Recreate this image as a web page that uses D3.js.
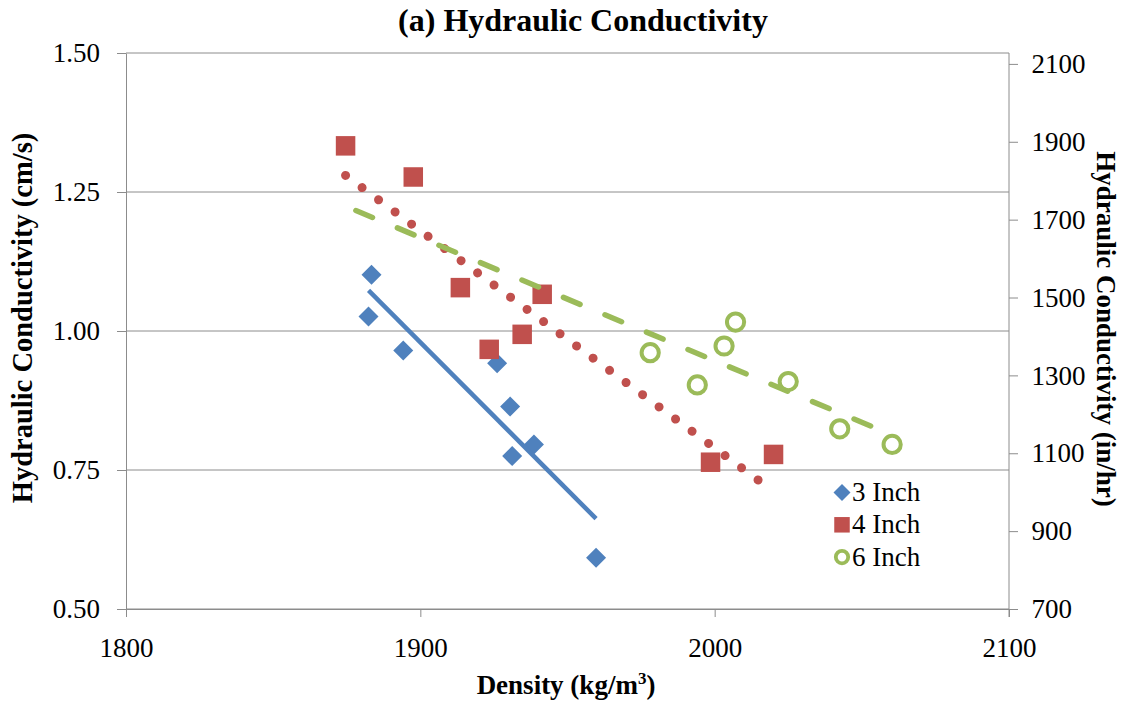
<!DOCTYPE html>
<html><head><meta charset="utf-8">
<script src="https://cdn.jsdelivr.net/npm/d3@7"></script>
<style>
html,body{margin:0;padding:0;background:#fff;}
text{font-family:"Liberation Serif","Times New Roman",serif;fill:#000;}
</style></head>
<body><svg id="c" width="1131" height="711"></svg>
<script>
// ---- data ----
const seriesNames = ["3 Inch", "4 Inch", "6 Inch"];
const density3 = [1883.4, 1882.4, 1894.2, 1926.1, 1930.5, 1931.2, 1938.6, 1959.7];
const k3 =       [1.101, 1.026, 0.965, 0.942, 0.864, 0.775, 0.796, 0.592];
const density4 = [1874.6, 1897.6, 1913.6, 1923.4, 1934.6, 1941.4, 1998.6, 2020.0];
const k4 =       [1.333, 1.277, 1.078, 0.967, 0.994, 1.066, 0.764, 0.778];
const density6 = [1978.1, 1994.1, 2003.2, 2007.1, 2025.0, 2042.5, 2060.3];
const k6 =       [0.961, 0.903, 0.973, 1.016, 0.909, 0.824, 0.796];
const backwardForecast = [0, 0, 100];
const xTicks = [1800, 1900, 2000, 2100];
const yTicks = [0.50, 0.75, 1.00, 1.25, 1.50];
const yRightTicks = [700, 900, 1100, 1300, 1500, 1700, 1900, 2100];

const svg = d3.select("#c");
const x = d3.scaleLinear().domain([1800, 2100]).range([126, 1009]);
const y = d3.scaleLinear().domain([0.5, 1.5]).range([609, 53]);
const yR = d3.scaleLinear().domain([700, 2128]).range([609, 53]);
const gridColor = "#8c8c8c";
const colors = ["#4f81bd", "#c0504d", "#9bbb59"];
const FS = 27;

// gridlines
svg.append("g").selectAll("line").data(yTicks).join("line")
  .attr("x1", x(1800)).attr("x2", x(2100))
  .attr("y1", d => y(d)).attr("y2", d => y(d))
  .attr("stroke", gridColor).attr("stroke-width", 1);

function styleAxis(g) {
  g.select(".domain").attr("stroke", gridColor);
  g.selectAll(".tick line").attr("stroke", gridColor);
  g.selectAll(".tick text").attr("font-size", FS).attr("fill", "#000");
}
const gx = svg.append("g").attr("transform", `translate(0,${y(0.5)})`)
  .call(d3.axisBottom(x).tickValues(xTicks).tickSize(8).tickSizeOuter(0).tickPadding(0).tickFormat(d3.format("d")));
gx.selectAll(".tick text").attr("dy", null).attr("y", 47.5);
styleAxis(gx);
const gy = svg.append("g").attr("transform", `translate(${x(1800)},0)`)
  .call(d3.axisLeft(y).tickValues(yTicks).tickSize(9).tickSizeOuter(0).tickPadding(17).tickFormat(d3.format(".2f")));
styleAxis(gy);
const gyr = svg.append("g").attr("transform", `translate(${x(2100)},0)`)
  .call(d3.axisRight(yR).tickValues(yRightTicks).tickSize(9).tickSizeOuter(0).tickPadding(13.5).tickFormat(d3.format("d")));
gyr.select(".domain").attr("d", `M0,${y(1.5)}V${y(0.5)+8}`);
styleAxis(gyr);

// markers
const data = [
  {xs: density3, ys: k3}, {xs: density4, ys: k4}, {xs: density6, ys: k6}
].map((s, i) => ({...s, name: seriesNames[i], color: colors[i], back: backwardForecast[i],
  pts: s.xs.map((v, j) => [v, s.ys[j]])}));

function drawMarker(g, type, cx, cy, color, big) {
  if (type === 0) {
    const h = big ? 10 : 8.5;
    g.append("path").attr("d", `M${cx},${cy-h}L${cx+h},${cy}L${cx},${cy+h}L${cx-h},${cy}Z`).attr("fill", color);
  } else if (type === 1) {
    const s = big ? 19.5 : 15.5;
    g.append("rect").attr("x", cx - s/2).attr("y", cy - s/2).attr("width", s).attr("height", s).attr("fill", color);
  } else {
    const r = big ? 8.6 : 6.2;
    g.append("circle").attr("cx", cx).attr("cy", cy).attr("r", r).attr("fill", "none")
      .attr("stroke", color).attr("stroke-width", big ? 4 : 3.8);
  }
}
const mg = svg.append("g");
data.forEach((s, i) => s.pts.forEach(p => drawMarker(mg, i, x(p[0]), y(p[1]), s.color, true)));

// linear trendlines (least squares)
function fit(pts) {
  const mx = d3.mean(pts, p => p[0]), my = d3.mean(pts, p => p[1]);
  const b = d3.sum(pts, p => (p[0]-mx)*(p[1]-my)) / d3.sum(pts, p => (p[0]-mx)**2);
  return v => my + b*(v - mx);
}
const lineStyles = [
  {w: 4.5, dash: null, cap: "butt"},
  {w: 9, dash: "0.01 20.5", cap: "round"},
  {w: 5.5, dash: "18 27", cap: "round"}
];
data.forEach((s, i) => {
  const f = fit(s.pts);
  const x0 = d3.min(s.xs) - s.back, x1 = d3.max(s.xs);
  const st = lineStyles[i];
  svg.append("line")
    .attr("x1", x(x0)).attr("y1", y(f(x0))).attr("x2", x(x1)).attr("y2", y(f(x1)))
    .attr("stroke", s.color).attr("stroke-width", st.w).attr("stroke-linecap", st.cap)
    .attr("stroke-dasharray", st.dash);
});

// legend
const lg = svg.append("g");
data.forEach((s, i) => {
  const cy = 492.5 + i * 32.3;
  drawMarker(lg, i, 842, cy, s.color, false);
  lg.append("text").attr("x", 852).attr("y", cy + 8.5)
    .attr("font-size", FS).text(s.name);
});

// titles
svg.append("text").attr("x", 583).attr("y", 31).attr("text-anchor", "middle")
  .attr("font-size", 32).attr("font-weight", "bold").text("(a) Hydraulic Conductivity");
const xt = svg.append("text").attr("x", 566).attr("y", 694).attr("text-anchor", "middle")
  .attr("font-size", FS).attr("font-weight", "bold");
xt.append("tspan").text("Density (kg/m");
xt.append("tspan").attr("font-size", 17).attr("dy", -10).text("3");
xt.append("tspan").attr("dy", 10).text(")");
svg.append("text").attr("transform", `translate(22,318) rotate(-90)`).attr("text-anchor", "middle")
  .attr("dominant-baseline", "central").attr("font-size", 28.5).attr("font-weight", "bold")
  .text("Hydraulic Conductivity (cm/s)");
svg.append("text").attr("transform", `translate(1106,329) rotate(90)`).attr("text-anchor", "middle")
  .attr("dominant-baseline", "central").attr("font-size", FS).attr("font-weight", "bold")
  .text("Hydraulic Conductivity (in/hr)");
</script></body></html>
